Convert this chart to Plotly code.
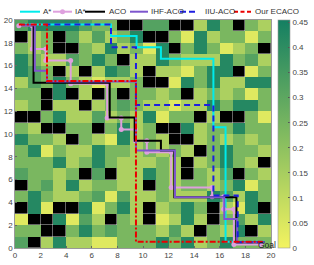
import plotly.graph_objects as go

# ---------------- data ----------------
# cell levels (colour values), obstacles = None ; rows listed from top (y=19) to bottom (y=0)
Y, L, M, G, D, K = 0.04, 0.14, 0.24, 0.32, 0.42, None
grid_rows = [
    [G, D, D, D, D, G, M, M, K, K, G, G, K, K, L, D, M, K, M, L],
    [K, L, M, K, G, L, G, L, M, D, K, K, M, Y, D, L, M, M, Y, M],
    [M, L, M, K, K, M, L, D, L, M, Y, D, K, M, D, M, Y, L, M, K],
    [D, M, L, L, G, M, D, M, K, L, L, D, M, L, L, L, D, M, G, L],
    [D, G, M, K, L, K, L, D, G, L, K, L, L, Y, M, D, D, K, Y, M],
    [L, G, M, D, M, L, Y, L, L, M, K, K, Y, D, M, D, L, L, D, D],
    [M, M, K, D, K, L, K, M, K, M, M, L, M, K, L, M, L, M, Y, M],
    [L, M, K, L, L, K, L, M, G, M, L, L, Y, L, L, D, M, D, D, M],
    [K, K, M, D, L, L, G, L, M, L, D, Y, M, M, K, L, K, K, M, Y],
    [M, L, K, K, M, M, K, M, D, L, M, K, K, D, L, M, M, D, M, M],
    [D, M, M, L, K, M, L, Y, D, L, M, L, K, K, L, M, L, M, L, M],
    [M, D, Y, M, L, L, D, M, M, L, M, L, M, L, K, M, D, M, M, L],
    [M, M, M, D, L, M, D, M, L, L, L, M, L, K, L, M, D, M, L, K],
    [G, M, M, L, M, K, G, K, L, L, D, M, L, K, M, L, G, K, M, L],
    [K, M, G, L, D, L, M, M, L, L, K, M, L, M, M, L, M, D, Y, M],
    [M, D, M, L, L, M, G, Y, G, L, L, M, L, L, L, D, G, L, D, M],
    [K, D, Y, K, K, D, Y, M, D, L, K, L, M, D, M, K, L, Y, D, K],
    [Y, K, K, D, Y, G, L, K, M, L, K, Y, L, D, L, K, M, G, L, D],
    [M, M, K, K, M, D, M, G, M, M, M, L, G, L, K, M, L, D, K, L],
    [G, K, L, D, L, L, Y, Y, M, M, M, D, M, D, L, M, D, M, M, M],
]
cell_centers = [i + 0.5 for i in range(20)]

astar_x = [0.5, 7.5, 7.5, 9.5, 9.5, 11.4, 11.4, 15.5, 15.5, 16.45, 16.45, 19.5]
astar_y = [19.6, 19.6, 18.6, 18.6, 17.6, 17.6, 16.6, 16.6, 10.6, 10.6, 0.55, 0.55]

iastar_x = [0.3, 1.35, 1.35, 2.4, 2.4, 4.35, 4.35, 7.2, 7.2, 8.3, 8.3, 9.4, 9.4, 10.3, 10.3, 12.2, 12.2, 15.4, 15.4, 16.3, 16.3, 17.1, 17.1, 19.2]
iastar_y = [19.5, 19.5, 17.45, 17.45, 16.45, 16.45, 14.4, 14.4, 11.4, 11.4, 10.4, 10.4, 9.4, 9.4, 8.4, 8.4, 5.3, 5.3, 4.5, 4.5, 3.4, 3.4, 0.3, 0.3]

aco_x = [0.5, 1.45, 1.45, 7.4, 7.4, 9.35, 9.35, 11.4, 11.4, 12.45, 12.45, 17.3, 17.3, 19.5]
aco_y = [19.55, 19.55, 14.5, 14.5, 11.45, 11.45, 9.4, 9.4, 8.55, 8.55, 4.45, 4.45, 0.5, 0.5]

ihf_x = [0.5, 1.55, 1.55, 2.5, 2.5, 9.45, 9.45, 12.5, 12.5, 16.35, 16.35, 17.35, 17.35, 19.5]
ihf_y = [19.55, 19.55, 15.55, 15.55, 14.6, 14.6, 8.55, 8.55, 4.45, 4.45, 2.55, 2.55, 0.5, 0.5]

iiu_x = [2.3, 7.5, 7.5, 9.45, 9.45, 15.5, 15.5, 17.4, 17.4, 19.5]
iiu_y = [19.6, 19.6, 17.6, 17.6, 12.55, 12.55, 4.6, 4.6, 0.5, 0.5]

ecaco_x = [0.3, 2.5, 2.5, 9.45, 9.45, 19.35]
ecaco_y = [19.6, 19.6, 14.65, 14.65, 0.55, 0.55]

series_names = ["A*", "IA*", "ACO", "IHF-ACO", "IIU-ACO", "Our ECACO"]
x_ticks = list(range(0, 21, 2))
cbar_ticks = [0, 0.05, 0.1, 0.15, 0.2, 0.25, 0.3, 0.35, 0.4, 0.45]

# ---------------- figure ----------------
z_vals = grid_rows[::-1]
z_obst = [[1 if v is None else None for v in row] for row in z_vals]

FONT = "Liberation Sans, Arial, sans-serif"
fig = go.Figure()
fig.add_trace(go.Heatmap(
    x=cell_centers, y=cell_centers, z=z_vals, zmin=0, zmax=0.455,
    colorscale=[[0, "rgb(243,243,96)"], [0.5, "rgb(128,186,96)"], [1, "rgb(20,127,98)"]],
    colorbar=dict(x=(278 - 15) / 256, xanchor="left", y=0.5, yanchor="middle", len=1.0, lenmode="fraction",
                  thickness=12, tickvals=cbar_ticks, ticktext=[f"{t:g}" for t in cbar_ticks],
                  ticks="inside", ticklen=2, tickcolor="#555", outlinewidth=0.6, outlinecolor="#999",
                  tickfont=dict(size=8, color="#444", family=FONT), xpad=0, ypad=0),
    hoverinfo="skip"))
fig.add_trace(go.Heatmap(
    x=cell_centers, y=cell_centers, z=z_obst, zmin=0, zmax=1,
    colorscale=[[0, "rgb(0,0,0)"], [1, "rgb(0,0,0)"]], showscale=False, xgap=0.4, ygap=0.4,
    hoverinfo="skip"))

styles = [
    dict(x=astar_x, y=astar_y, color="rgb(0,235,235)", dash="solid", mode="lines"),
    dict(x=iastar_x, y=iastar_y, color="rgb(222,160,222)", dash="solid", mode="lines+markers"),
    dict(x=aco_x, y=aco_y, color="rgb(0,0,0)", dash="solid", mode="lines"),
    dict(x=ihf_x, y=ihf_y, color="rgb(125,85,205)", dash="solid", mode="lines"),
    dict(x=iiu_x, y=iiu_y, color="rgb(30,30,225)", dash="6px,4px", mode="lines"),
    dict(x=ecaco_x, y=ecaco_y, color="rgb(235,0,0)", dash="6px,2px,2px,2px", mode="lines"),
]
for name, s in zip(series_names, styles):
    fig.add_trace(go.Scatter(
        x=s["x"], y=s["y"], mode=s["mode"], name=name, showlegend=False,
        line=dict(color=s["color"], width=2, dash=s["dash"]),
        marker=dict(size=5, color=s["color"]), hoverinfo="skip"))

# manual compact legend (paper coordinates)
def px_x(p):
    return (p - 15) / 256

def px_y(p):
    return 1 + (20 - p) / 228

leg_y = px_y(11.7)
leg_lines = [(20, 40, 41), (53, 72, 73), (85, 105, 107), (130, 148, 149), (180, 196, 203), (234, 251, 253)]
leg_dash = ["solid", "solid", "solid", "solid", "6px,3px", "4px,2.5px"]
shapes = []
annotations = []
for (a, b, t), name, s, d in zip(leg_lines, series_names, styles, leg_dash):
    shapes.append(dict(type="line", xref="paper", yref="paper", x0=px_x(a), x1=px_x(b), y0=leg_y, y1=leg_y,
                       line=dict(color=s["color"], width=2, dash=d)))
    if s["mode"] == "lines+markers":
        m = (a + b) / 2
        shapes.append(dict(type="circle", xref="paper", yref="paper", x0=px_x(m - 2.5), x1=px_x(m + 2.5),
                           y0=leg_y - 2.5 / 228, y1=leg_y + 2.5 / 228,
                           fillcolor=s["color"], line=dict(color=s["color"], width=0)))
    annotations.append(dict(xref="paper", yref="paper", x=px_x(t), y=leg_y, text=name, showarrow=False,
                            xanchor="left", yanchor="middle", font=dict(size=8, color="#333", family=FONT)))

annotations.append(dict(x=0.8, y=20.08, text="Star", showarrow=False, xanchor="center", yanchor="middle",
                        font=dict(size=9, color="#222", family=FONT)))
annotations.append(dict(x=19.65, y=0.22, text="Goal", showarrow=False, xanchor="center", yanchor="middle",
                        font=dict(size=8.5, color="#222", family=FONT)))

fig.update_layout(
    template="none",
    width=314, height=265, margin=dict(l=15, r=43, t=20, b=17, pad=0, autoexpand=False),
    paper_bgcolor="white", plot_bgcolor="white",
    shapes=shapes, annotations=annotations, showlegend=False,
    font=dict(family=FONT, size=8, color="#444"),
)
axis_style = dict(range=[0, 20], tickvals=x_ticks, ticks="inside", ticklen=2, tickcolor="#666",
                  showgrid=False, zeroline=False, showline=True, mirror=True, linecolor="#999", linewidth=0.6,
                  tickfont=dict(size=8, color="#444", family=FONT), automargin=False)
fig.update_xaxes(**axis_style)
fig.update_yaxes(**axis_style)

fig.write_html("out.html", config={"displayModeBar": False},
               post_script="document.body.style.margin='0';")
